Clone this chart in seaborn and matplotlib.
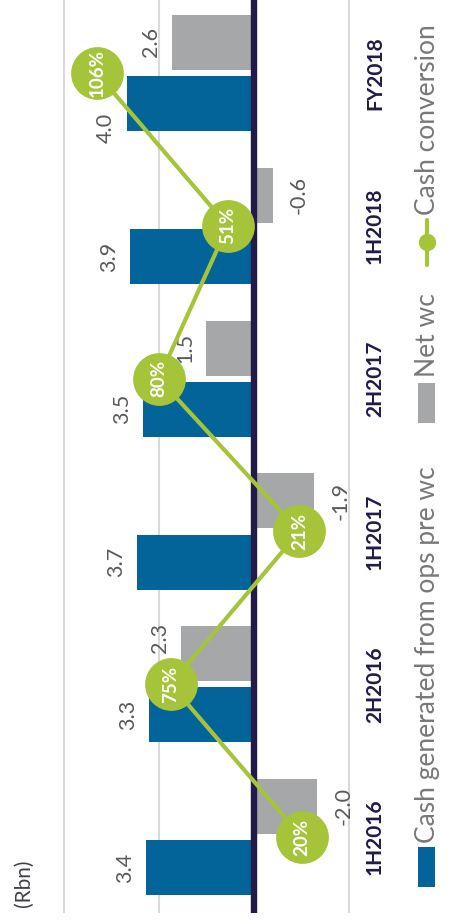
import matplotlib
matplotlib.use("Agg")
import matplotlib.pyplot as plt
import matplotlib.transforms as mtransforms
from matplotlib.patches import Rectangle
from matplotlib.lines import Line2D
import numpy as np
import pandas as pd
import seaborn as sns

# ---------------- data ----------------
categories = ["1H2016", "2H2016", "1H2017", "2H2017", "1H2018", "FY2018"]
cash_generated = [3.4, 3.3, 3.7, 3.5, 3.9, 4.0]
net_wc = [-2.0, 2.3, -1.9, 1.5, -0.6, 2.6]
cash_conversion = [20, 75, 21, 80, 51, 106]
series_names = ["Cash generated from ops pre wc", "Net wc", "Cash conversion"]
unit_label = "(Rbn)"

# ---------------- style ----------------
BLUE = "#03649A"
GRAY = "#A6A7A9"
GREEN = "#A6C439"
NAVY = "#221B4A"
LABEL_GRAY = "#595959"
LEGEND_GRAY = "#787878"

sns.set_theme(style="white")
plt.rcParams["font.family"] = ["Lato", "DejaVu Sans"]

W, H = 462, 924
fig = plt.figure(figsize=(W / 100, H / 100), dpi=100)
ax = fig.add_axes([0, 11 / H, 360 / W, 913 / H])

df = pd.DataFrame({
    "period": categories * 2,
    "value": cash_generated + net_wc,
    "series": [series_names[0]] * len(categories) + [series_names[1]] * len(categories),
})

sns.barplot(data=df, x="value", y="period", hue="series", orient="h",
            order=categories, hue_order=series_names[:2],
            palette=[BLUE, GRAY], width=0.8, gap=0.1, saturation=1,
            legend=False, linewidth=0, ax=ax)

XLIM = (8.01, -3.34)
YLIM = (-0.497, 5.478)
ax.set_xlim(*XLIM)
ax.set_ylim(*YLIM)
ax.set_xticks([6, 3, 0, -3])
ax.grid(axis="x", color="#D9D9D9", lw=1.5)
ax.grid(axis="y", visible=False)
ax.set_axisbelow(True)
ax.tick_params(length=0, labelbottom=False, labelleft=False)
ax.set_xlabel("")
ax.set_ylabel("")
for s in ax.spines.values():
    s.set_visible(False)
ax.axvline(0, color=NAVY, lw=4.6, zorder=3)

# value labels (small nudges along the category axis keep them clear of the circles)
pos = np.arange(len(categories))
cash_nudge = {5: -0.16}
net_nudge = {1: 0.1}
for i, v in enumerate(cash_generated):
    y = i - 0.2 + cash_nudge.get(i, 0)
    ax.annotate(f"{v:.1f}", xy=(v, y), xytext=(-11, 0), textcoords="offset pixels",
                rotation=90, ha="right", va="center", color=LABEL_GRAY, fontsize=15.5)
for i, v in enumerate(net_wc):
    y = i + 0.2 + net_nudge.get(i, 0)
    if v > 0:
        ax.annotate(f"{v:.1f}", xy=(v, y), xytext=(-11, 0), textcoords="offset pixels",
                    rotation=90, ha="right", va="center", color=LABEL_GRAY, fontsize=15.5)
    else:
        ax.annotate(f"{v:.1f}", xy=(v, y), xytext=(16, 0), textcoords="offset pixels",
                    rotation=90, ha="left", va="center", color=LABEL_GRAY, fontsize=15.5)

# category labels
trans = mtransforms.blended_transform_factory(fig.transFigure, ax.transData)
for i, c in enumerate(categories):
    ax.text(375 / W, i, c, transform=trans, rotation=90, ha="center", va="center",
            color=NAVY, fontsize=15, fontweight="bold", clip_on=False)

# cash conversion line on secondary axis
ax2 = ax.twiny()
sns.lineplot(x=cash_conversion, y=pos, orient="y", ax=ax2, color=GREEN, lw=3,
             marker="o", markersize=38, markeredgewidth=0)
ax2.set_xlim(146.6, -4.45)
ax.set_ylim(*YLIM)
ax2.axis("off")
for i, p in enumerate(cash_conversion):
    ax2.text(p, i, f"{p}%", rotation=90, ha="center", va="center", color="white",
             fontsize=13.5, fontweight="bold", zorder=5)

# unit label
fig.text(24 / W, 1 - 883 / H, unit_label, rotation=90, ha="center", va="center",
         color="#404048", fontsize=15)

# legend (rotated, manual)
def fy(y):
    return 1 - y / H

fig.patches.append(Rectangle((418 / W, fy(887)), 17 / W, 40 / H, transform=fig.transFigure,
                             facecolor=BLUE, edgecolor="none"))
fig.text(435 / W, fy(843), series_names[0], rotation=90, rotation_mode="anchor",
         ha="left", va="baseline", color=LEGEND_GRAY, fontsize=19)
fig.patches.append(Rectangle((418 / W, fy(423)), 17 / W, 40 / H, transform=fig.transFigure,
                             facecolor=GRAY, edgecolor="none"))
fig.text(435 / W, fy(377), series_names[1], rotation=90, rotation_mode="anchor",
         ha="left", va="baseline", color=LEGEND_GRAY, fontsize=19)
fig.lines.append(Line2D([427 / W, 427 / W], [fy(265), fy(220)], transform=fig.transFigure,
                        color=GREEN, lw=3))
fig.lines.append(Line2D([427 / W], [fy(242)], transform=fig.transFigure, color=GREEN,
                        marker="o", markersize=12.5, markeredgewidth=0))
fig.text(435 / W, fy(215), series_names[2], rotation=90, rotation_mode="anchor",
         ha="left", va="baseline", color=LEGEND_GRAY, fontsize=19)

fig.savefig("out.png", dpi=100)
